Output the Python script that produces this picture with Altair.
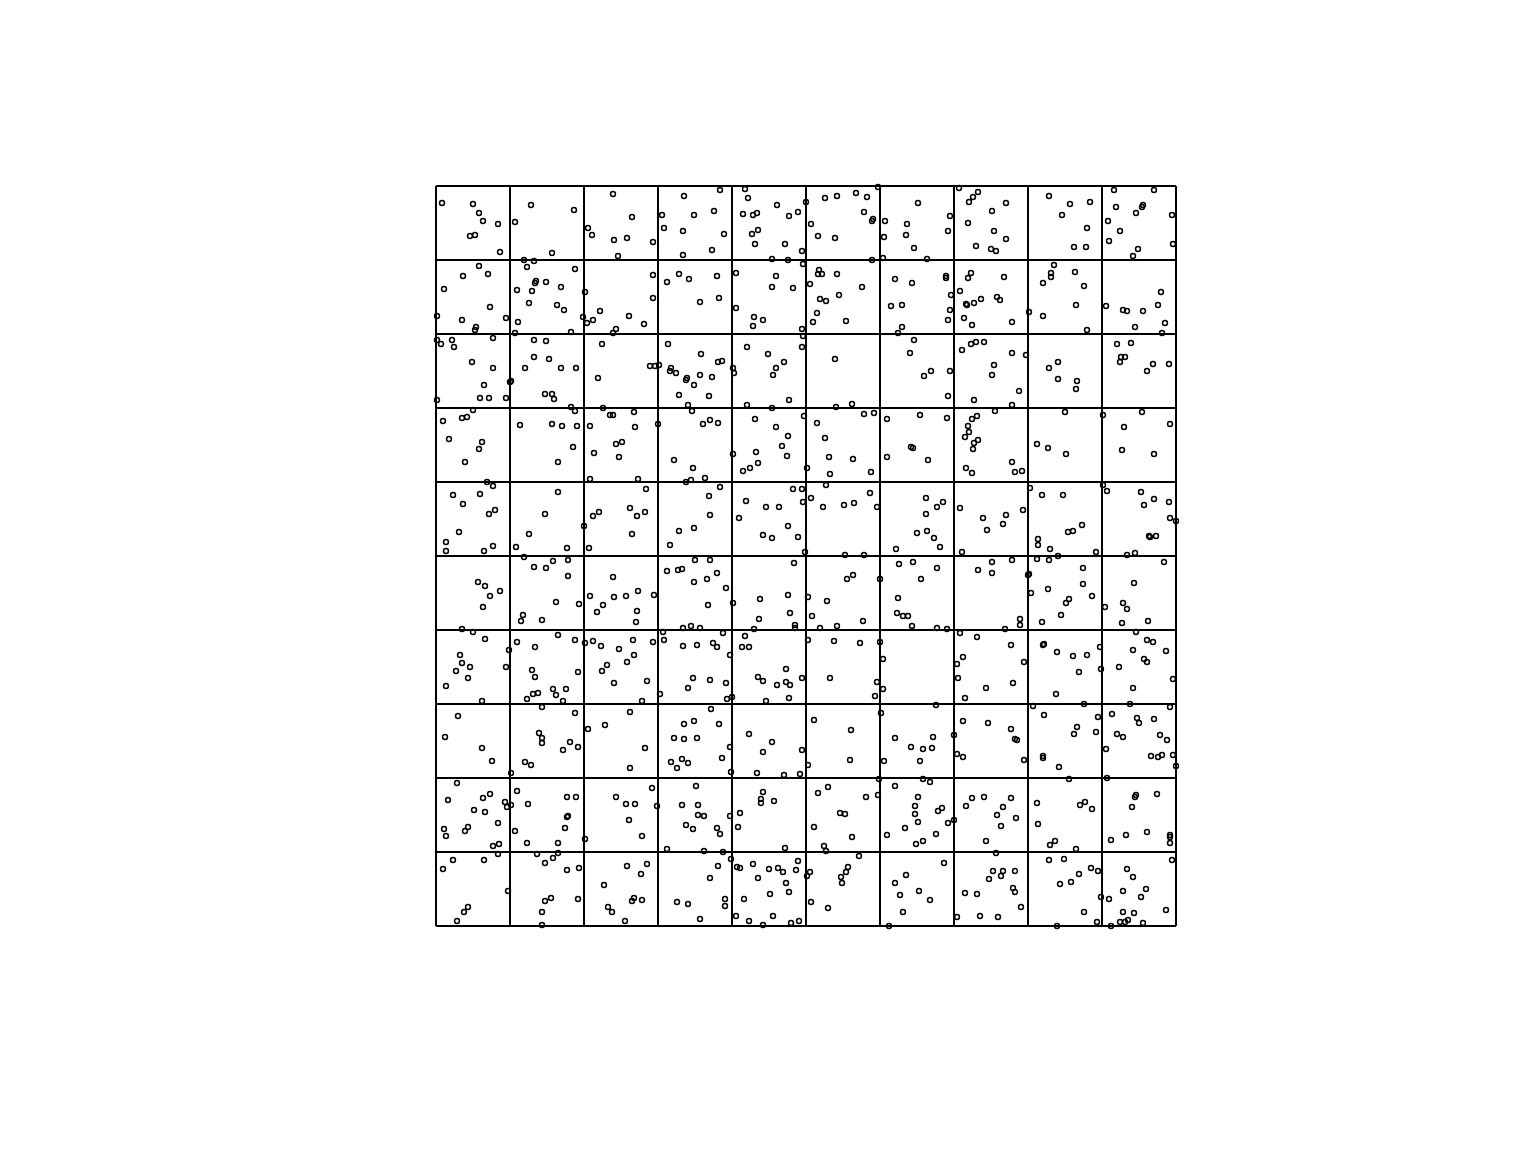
import altair as alt
import pandas as pd

# Point pattern in a square window of side W (arbitrary units), 10 x 10 quadrats
W = 740
N_QUAD = 10

xs = [
6,37,43,47,62,34,39,64,95,138,79,116,177,152,156,178,182,
43,27,52,8,54,1,26,40,39,70,88,91,98,139,100,99,110,81,96,125,93,121,128,82,147,151,157,164,149,79,180,177,135,
1,5,16,18,57,36,57,48,44,53,70,1,75,74,98,110,98,113,89,125,140,109,116,118,135,139,166,162,167,174,177,
37,26,31,7,84,116,126,141,154,
196,191,217,248,284,226,258,278,228,247,288,247,276,309,312,341,370,307,317,321,353,362,316,322,319,349,366,336,352,367,
217,217,193,208,231,243,253,281,264,283,300,340,336,357,374,300,318,327,317,366,367,377,
232,265,214,219,223,235,234,240,251,250,264,276,258,282,286,243,273,252,256,297,298,311,332,348,340,337,366,353,311,336,198,222,199,267,274,282,319,340,368,
389,401,420,431,442,428,436,437,375,382,399,436,449,448,447,482,471,470,478,491,514,512,523,533,537,542,556,532,558,540,555,560,
383,382,386,401,426,384,390,403,381,410,459,476,510,510,515,455,466,514,512,466,462,532,535,524,530,531,538,545,528,536,
399,400,416,478,474,495,488,514,512,526,535,540,548,558,556,538,559,428,438,381,451,484,511,541,536,532,
570,570,613,634,654,626,651,638,650,678,718,680,707,706,700,736,672,684,673,737,702,697,
568,561,564,576,618,615,615,607,639,648,640,593,607,651,670,687,691,707,725,722,699,729,726,
576,590,583,576,613,622,622,641,640,681,695,685,689,684,717,711,733,629,667,706,688,734,
13,46,43,29,137,122,158,180,186,183,154,51,57,
17,44,27,53,59,23,10,10,48,57,122,109,93,80,131,157,163,148,153,
88,98,110,117,132,132,120,143,87,85,106,42,49,64,54,47,177,154,178,167,161,
26,37,49,24,26,34,20,73,70,81,99,96,122,139,142,149,157,165,183,171,166,
238,257,202,250,255,269,297,320,307,314,322,352,346,351,371,
210,194,201,209,196,284,273,274,258,243,234,310,303,330,343,327,336,352,362,357,366,367,369,
259,274,231,242,246,281,258,271,290,272,297,190,202,218,201,200,358,324,352,354,323,359,359,318,
227,228,247,255,264,287,217,197,198,191,247,261,277,281,294,309,306,313,372,350,
389,393,417,394,435,475,477,451,492,533,529,542,538,537,530,536,390,
375,387,408,418,434,441,409,428,460,490,501,507,490,481,491,498,504,524,547,551,526,
463,477,501,485,444,411,417,372,391,376,427,384,401,462,461,467,472,476,501,511,542,556,556,
524,541,398,424,444,447,527,521,
576,579,586,601,612,630,686,718,594,667,671,
606,627,587,570,567,602,602,614,622,632,637,646,660,705,718,708,733,734,740,713,714,720,691,699,
576,601,613,647,592,593,612,595,647,656,633,630,625,584,584,606,569,728,698,669,687,691,686,712,
700,711,717,697,730,708,711,683,665,664,608,607,621,637,651,643,575,588,
10,32,46,99,91,97,102,117,120,127,130,178,
106,22,9,46,56,139,103,106,106,134,142,127,89,95,75,152,169,
21,12,47,54,38,49,69,71,75,62,8,10,29,32,57,63,62,81,92,131,140,132,131,129,79,91,122,149,180,
17,7,48,72,32,28,21,101,122,117,109,131,143,115,109,142,106,106,168,172,176,
211,206,257,252,274,290,224,291,296,322,327,330,341,350,354,353,366,
194,209,194,275,258,248,283,238,248,261,235,246,241,252,286,294,295,313,336,327,366,372,321,348,364,
216,190,199,193,206,221,260,246,262,262,268,250,257,281,284,231,294,304,302,327,325,325,338,349,268,287,
191,211,205,198,196,206,189,282,274,241,252,289,289,264,295,301,304,317,333,342,347,360,362,322,350,334,353,371,374,308,300,313,327,337,355,363,
394,441,447,439,522,550,529,
500,378,415,414,445,448,459,475,487,496,497,484,518,527,552,521,527,
443,459,487,494,392,382,430,442,404,409,378,416,388,390,482,479,479,482,502,506,512,518,469,451,500,480,487,536,548,530,550,
423,412,410,405,406,375,392,508,470,459,464,483,494,467,453,557,553,529,541,521,544,
577,620,697,737,597,648,694,734,
575,579,581,588,608,641,638,662,660,607,607,623,633,676,701,703,718,681,687,724,731,670,715,722,726,737,740,671,
575,567,561,580,565,601,644,649,656,602,614,619,640,700,699,696,721,711,690,675,734,734,734,
560,565,567,579,577,579,585,562,613,628,655,662,643,635,624,665,673,648,661,621,691,697,736,710,705,687,730,687,698,675,684,689,692,707,
]

ys = [
723,722,713,705,702,690,691,674,721,716,704,673,732,698,691,686,670,
660,650,652,637,619,610,606,599,596,608,666,659,665,657,645,643,644,636,635,639,623,621,616,604,609,603,606,615,634,593,597,593,594,
586,582,586,579,588,564,558,541,528,528,528,526,545,544,586,585,569,567,558,558,558,532,532,527,519,515,582,548,518,511,511,
516,508,509,505,501,502,500,500,500,
709,688,684,730,736,711,711,715,698,695,692,671,676,737,728,721,724,712,711,713,710,714,692,696,682,682,675,667,666,662,
651,628,610,602,644,652,647,650,624,628,653,650,639,638,642,618,609,606,600,597,590,604,
582,572,560,560,561,558,555,553,548,546,551,549,541,564,565,531,530,521,515,558,553,579,572,564,558,551,579,526,521,518,514,502,499,502,506,503,507,499,510,
728,730,733,729,739,714,705,707,702,690,688,666,705,689,668,723,702,691,678,667,710,695,738,724,729,734,715,703,695,680,677,675,
656,652,652,652,639,627,625,631,613,605,647,643,650,648,631,620,621,616,606,599,593,648,653,635,622,621,623,627,608,601,
567,519,522,586,573,555,550,555,530,576,582,584,584,561,551,526,515,512,513,503,507,511,508,510,507,500,
723,687,730,722,724,711,698,679,679,736,736,719,721,719,713,711,705,695,685,682,677,670,
649,629,626,604,661,653,649,643,654,640,621,614,610,596,620,616,615,615,634,621,599,603,593,
573,571,535,521,558,564,547,545,537,582,583,569,569,564,562,555,562,514,511,514,499,502,
487,484,477,464,479,464,473,482,484,469,447,444,440,
431,432,422,412,416,394,384,375,375,380,434,412,392,379,378,410,414,400,378,
369,359,358,365,366,350,324,322,311,305,306,344,340,335,330,319,349,330,329,321,314,
297,294,287,271,263,259,255,276,259,284,279,256,291,286,254,283,285,280,277,261,255,
466,458,447,444,446,448,472,474,455,458,463,490,480,470,458,
437,418,410,414,392,439,430,411,398,395,381,425,408,419,419,391,388,400,389,437,437,424,374,
366,366,355,356,357,353,344,347,338,321,323,330,335,331,315,304,363,327,331,313,307,301,298,297,
294,286,298,300,298,293,284,286,271,264,280,281,283,279,271,290,279,279,286,257,
488,469,467,452,454,479,478,469,466,494,489,486,483,477,458,453,441,
428,419,421,423,433,419,371,371,377,428,419,424,412,393,395,388,379,418,408,396,374,
362,364,358,347,347,347,351,329,325,310,305,298,300,328,313,310,310,300,298,297,356,364,353,
293,289,285,283,284,267,269,262,
464,454,455,482,478,472,476,472,438,441,435,
431,431,416,411,402,387,381,377,370,394,395,401,374,434,427,421,424,408,405,390,389,390,371,373,
366,367,366,358,351,352,337,333,342,330,327,323,311,307,301,304,297,364,343,319,323,317,303,305,
294,286,284,276,275,267,264,259,257,279,282,281,274,270,271,254,281,264,
240,248,225,249,227,232,233,237,231,225,237,243,
219,210,189,178,165,213,193,188,183,184,179,176,164,161,153,197,201,
143,126,128,132,116,114,124,119,121,103,97,90,95,99,80,82,72,135,122,129,129,110,109,98,95,83,83,87,129,
66,57,66,35,19,14,5,72,73,68,63,56,58,28,25,27,14,1,41,19,14,
245,225,248,238,246,243,232,227,229,249,245,225,241,244,241,228,248,
214,178,158,217,205,202,202,188,187,188,164,167,158,163,168,179,154,192,184,174,176,161,153,151,152,
138,122,122,106,90,120,140,121,121,111,110,101,97,98,92,77,110,113,99,134,127,123,125,78,75,74,
60,62,52,28,25,26,5,60,48,24,22,27,20,7,67,59,58,62,57,58,54,56,65,48,43,32,34,50,54,27,10,5,1,10,3,5,
248,244,237,230,248,238,228,
221,206,196,166,213,165,188,179,177,178,189,165,191,205,203,172,169,
147,140,147,144,139,133,129,131,113,112,99,89,80,75,129,120,112,104,115,118,103,106,98,91,92,82,85,128,129,120,85,
70,59,54,49,43,24,18,63,51,43,31,35,26,14,0,55,47,33,32,9,10,
243,232,238,247,220,222,222,219,
197,187,186,166,211,199,192,209,194,170,168,159,147,212,208,203,207,192,189,191,186,177,170,169,171,171,160,148,
128,119,111,108,100,123,121,124,117,102,81,85,77,131,129,119,132,94,91,86,91,89,83,
73,50,55,55,38,34,19,9,66,67,58,55,52,44,42,29,27,14,4,0,57,49,66,37,29,35,16,14,13,0,4,4,6,3,
]

pts = pd.DataFrame({"x": xs, "y": ys})

breaks = [i * W / N_QUAD for i in range(N_QUAD + 1)]
vlines = pd.DataFrame({"x": breaks, "y0": [0] * len(breaks), "y1": [W] * len(breaks)})
hlines = pd.DataFrame({"y": breaks, "x0": [0] * len(breaks), "x1": [W] * len(breaks)})

xsc = alt.Scale(domain=[0, W], nice=False, zero=False)
ysc = alt.Scale(domain=[0, W], nice=False, zero=False)

v = alt.Chart(vlines).mark_rule(color="black", strokeWidth=2).encode(
    x=alt.X("x:Q", scale=xsc, axis=None),
    y=alt.Y("y0:Q", scale=ysc, axis=None),
    y2="y1:Q",
)
h = alt.Chart(hlines).mark_rule(color="black", strokeWidth=2).encode(
    y=alt.Y("y:Q", scale=ysc, axis=None),
    x=alt.X("x0:Q", scale=xsc, axis=None),
    x2="x1:Q",
)
p = alt.Chart(pts).mark_point(
    shape="circle", filled=False, color="black", size=24, strokeWidth=1.5, opacity=1
).encode(
    x=alt.X("x:Q", scale=xsc, axis=None),
    y=alt.Y("y:Q", scale=ysc, axis=None),
)

chart = (
    alt.layer(v, h, p)
    .properties(
        width=740,
        height=740,
        autosize=alt.AutoSizeParams(type="none"),
        padding={"left": 436, "top": 186, "right": 360, "bottom": 226},
        background="white",
    )
    .configure_view(stroke=None)
)

chart.save("out.html", embed_options={"renderer": "svg", "actions": False})
